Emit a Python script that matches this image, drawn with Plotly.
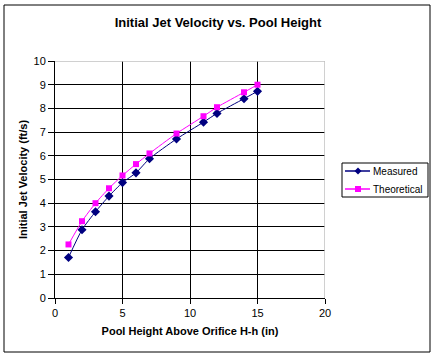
import plotly.graph_objects as go

height_in = [1, 2, 3, 4, 5, 6, 7, 9, 11, 12, 14, 15]
measured = [1.71, 2.88, 3.64, 4.30, 4.87, 5.28, 5.88, 6.71, 7.42, 7.79, 8.41, 8.72]
theoretical = [2.26, 3.24, 4.00, 4.63, 5.17, 5.65, 6.10, 6.94, 7.67, 8.05, 8.68, 9.00]
series_names = ["Measured", "Theoretical"]
series_colors = ["#000080", "#FF00FF"]

FONT = "Liberation Sans, Arial, sans-serif"

# plot area in pixels (for converting legend/border positions to paper coords)
L, R, T, B = 55, 325, 61, 298
def px(xp):
    return (xp - L) / (R - L)
def py(yp):
    return (B - yp) / (B - T)

fig = go.Figure()
fig.add_trace(go.Scatter(
    x=height_in, y=measured, name=series_names[0], mode="lines+markers",
    line=dict(color=series_colors[0], width=1, shape="spline", smoothing=0.6),
    marker=dict(symbol="diamond", size=7, color=series_colors[0]),
))
fig.add_trace(go.Scatter(
    x=height_in, y=theoretical, name=series_names[1], mode="lines+markers",
    line=dict(color=series_colors[1], width=1, shape="spline", smoothing=0.6),
    marker=dict(symbol="square", size=6, color=series_colors[1]),
))

shapes = [
    dict(type="line", xref="x", yref="y", x0=0, x1=20, y0=10, y1=10,
         line=dict(color="#C0C0C0", width=1.5), layer="above"),
    dict(type="line", xref="x", yref="y", x0=20, x1=20, y0=0, y1=10,
         line=dict(color="#C0C0C0", width=1.5), layer="above"),
    # chart outer border
    dict(type="rect", xref="paper", yref="paper",
         x0=px(4), x1=px(430), y0=py(352), y1=py(5),
         line=dict(color="black", width=1), fillcolor="rgba(0,0,0,0)"),
    # legend box
    dict(type="rect", xref="paper", yref="paper",
         x0=px(342), x1=px(428), y0=py(197), y1=py(163),
         line=dict(color="black", width=1), fillcolor="white"),
]
annotations = []
rows_y = [171, 189]
for i, (nm, col) in enumerate(zip(series_names, series_colors)):
    yy = rows_y[i]
    shapes.append(dict(type="line", xref="paper", yref="paper",
                       x0=px(345), x1=px(370), y0=py(yy), y1=py(yy),
                       line=dict(color=col, width=1.5)))
    if i == 0:
        path = (f"M {px(358)} {py(yy-3.5)} L {px(361.5)} {py(yy)} "
                f"L {px(358)} {py(yy+3.5)} L {px(354.5)} {py(yy)} Z")
    else:
        path = (f"M {px(355)} {py(yy-3)} L {px(361)} {py(yy-3)} "
                f"L {px(361)} {py(yy+3)} L {px(355)} {py(yy+3)} Z")
    shapes.append(dict(type="path", xref="paper", yref="paper", path=path,
                       fillcolor=col, line=dict(color=col, width=0)))
    annotations.append(dict(text=nm, xref="paper", yref="paper",
                            x=px(371), y=py(yy), xanchor="left", yanchor="middle",
                            showarrow=False, font=dict(size=10, family=FONT)))

fig.update_layout(
    width=436, height=358,
    margin=dict(l=L, r=436 - R, t=T, b=358 - B, autoexpand=False),
    paper_bgcolor="white", plot_bgcolor="white",
    font=dict(family=FONT, size=11, color="black"),
    title=dict(text="<b>Initial Jet Velocity vs. Pool Height</b>",
               x=0.5, xref="container", xanchor="center",
               y=1 - 22/358, yref="container", yanchor="middle",
               font=dict(size=13, family=FONT)),
    showlegend=False,
    xaxis=dict(range=[0, 20], dtick=5, showgrid=True, gridcolor="black", gridwidth=1,
               showline=True, linecolor="black", linewidth=1, zeroline=False,
               ticks="outside", ticklen=5, tickcolor="black",
               title=dict(text="<b>Pool Height Above Orifice H-h (in)</b>",
                          font=dict(size=11), standoff=9)),
    yaxis=dict(range=[0, 10], dtick=1, showgrid=True, gridcolor="black", gridwidth=1,
               showline=True, linecolor="black", linewidth=1, zeroline=False,
               ticks="outside", ticklen=6, tickcolor="black",
               title=dict(text="<b>Initial Jet Velocity (ft/s)</b>",
                          font=dict(size=11), standoff=3)),
    shapes=shapes,
    annotations=annotations,
)

fig.write_html("out.html", config={"displayModeBar": False},
               post_script="document.body.style.margin='0';")
